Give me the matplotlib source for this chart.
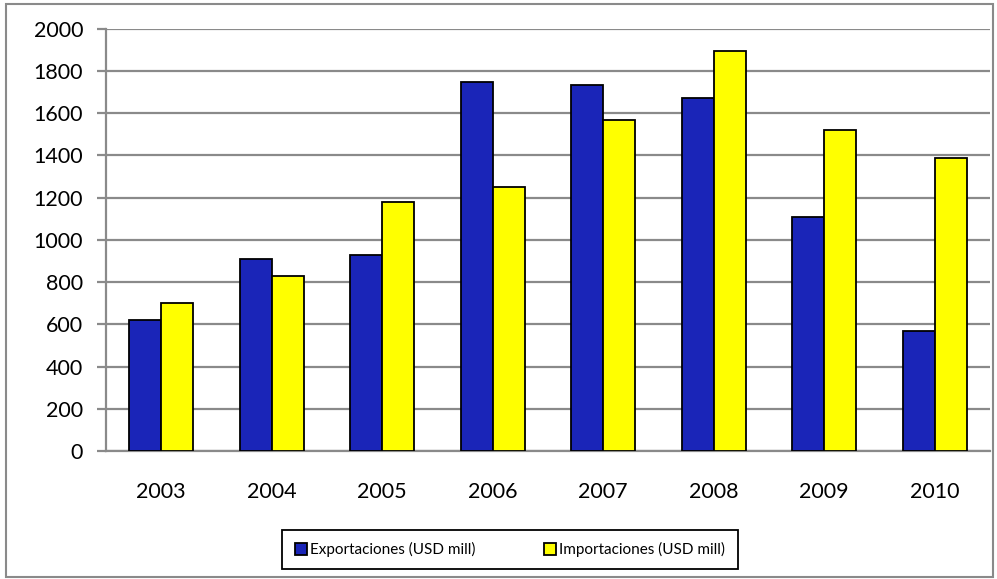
import matplotlib
matplotlib.use("Agg")
import matplotlib.pyplot as plt
import numpy as np
from matplotlib.patches import Rectangle

years = ["2003", "2004", "2005", "2006", "2007", "2008", "2009", "2010"]
exportaciones = [620, 909, 928, 1749, 1733, 1670, 1109, 570]
importaciones = [699, 829, 1179, 1251, 1566, 1894, 1520, 1389]

plt.rcParams['font.family'] = ['Lato', 'DejaVu Sans']

fig = plt.figure(figsize=(9.97, 5.79), dpi=100)
ax = fig.add_axes([0.1063, 0.221, 0.8867, 0.7294])

x = np.arange(len(years))
w = 0.29
ax.bar(x - w / 2, exportaciones, w, color='#1A25B8', edgecolor='black', linewidth=1.3,
       label='Exportaciones (USD mill)', zorder=3)
ax.bar(x + w / 2, importaciones, w, color='#FFFF00', edgecolor='black', linewidth=1.3,
       label='Importaciones (USD mill)', zorder=3)

ax.set_xlim(-0.5, len(years) - 0.5)
ax.set_ylim(0, 2000)
ax.set_yticks(range(0, 2001, 200))
ax.set_xticks(x)
ax.set_xticklabels(years)
ax.yaxis.grid(True, color='#8a8a8a', linewidth=1.6, zorder=0)
ax.set_axisbelow(True)

for s in ['top', 'right']:
    ax.spines[s].set_visible(False)
for s in ['left', 'bottom']:
    ax.spines[s].set_color('#8a8a8a')
    ax.spines[s].set_linewidth(1.6)

ax.tick_params(axis='y', length=6.5, width=1.6, color='#8a8a8a', pad=10, labelsize=15.5)
ax.tick_params(axis='x', length=0, pad=22, labelsize=15.5)

fig.legend(loc='center', bbox_to_anchor=(0.5115, 0.051), ncol=2, fancybox=False,
           edgecolor='black', framealpha=1, handlelength=0.8, handleheight=0.8,
           handletextpad=0.2, columnspacing=4.5, borderpad=0.8, borderaxespad=0,
           prop={'size': 11})
leg = fig.legends[0]
leg.get_frame().set_linewidth(1.3)

fig.patches.append(Rectangle((0.006, 0.003), 0.99, 0.99, transform=fig.transFigure,
                             fill=False, edgecolor='#8a8a8a', linewidth=1.5))

fig.savefig("out.png", dpi=100)
